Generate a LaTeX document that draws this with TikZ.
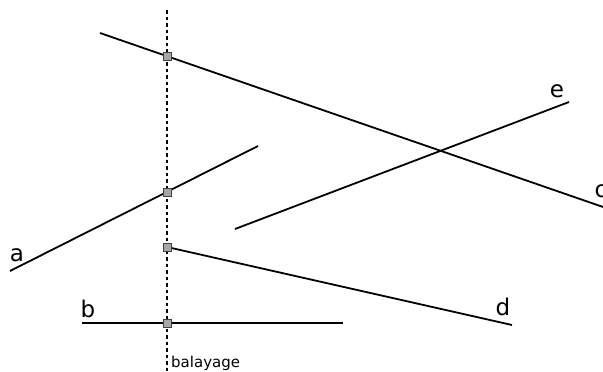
\documentclass[tikz,border=0pt]{standalone}
\usepackage{fontspec}
\setmainfont{DejaVu Sans}
\begin{document}
\begin{tikzpicture}[x=1pt,y=-1pt,
  seg/.style={line width=1.8pt,black},
  evt/.style={draw=black!75,fill=black!35,line width=0.9pt,minimum size=8pt,inner sep=0pt,rectangle},
  lbl/.style={font=\fontsize{23}{25}\selectfont,inner sep=0pt},
  sweep/.style={line width=1.8pt,dash pattern=on 3.5pt off 3pt}]
\useasboundingbox (0,0) rectangle (603,372);
% sweep line
\coordinate (st) at (167,10);
\coordinate (sb) at (167,372);
\draw[sweep] (st) -- (sb);
% segments
\coordinate (c1) at (100,33);  \coordinate (c2) at (606,208);
\coordinate (e1) at (235,229); \coordinate (e2) at (569,102);
\coordinate (a1) at (10,271);  \coordinate (a2) at (258,146);
\coordinate (d1) at (167,247); \coordinate (d2) at (512,325);
\coordinate (b1) at (82,323);  \coordinate (b2) at (343,323);
\draw[seg] (c1) -- (c2);
\draw[seg] (e1) -- (e2);
\draw[seg] (a1) -- (a2);
\draw[seg] (d1) -- (d2);
\draw[seg] (b1) -- (b2);
% events
\node[evt] (pc) at (167,56) {};
\node[evt] (pa) at (167,192) {};
\node[evt] (pd) at (167,247) {};
\node[evt] (pb) at (167,323) {};
% labels
\node[lbl] (la) at (17,255) {a};
\node[lbl] (lb) at (88,309) {b};
\node[lbl] (lc) at (601,191) {c};
\node[lbl] (ld) at (503,307) {d};
\node[lbl] (le) at (557,91) {e};
\node[anchor=base west,inner sep=0pt,font=\fontsize{15}{17}\selectfont] (bal) at (171,367) {balayage};
\end{tikzpicture}
\end{document}
